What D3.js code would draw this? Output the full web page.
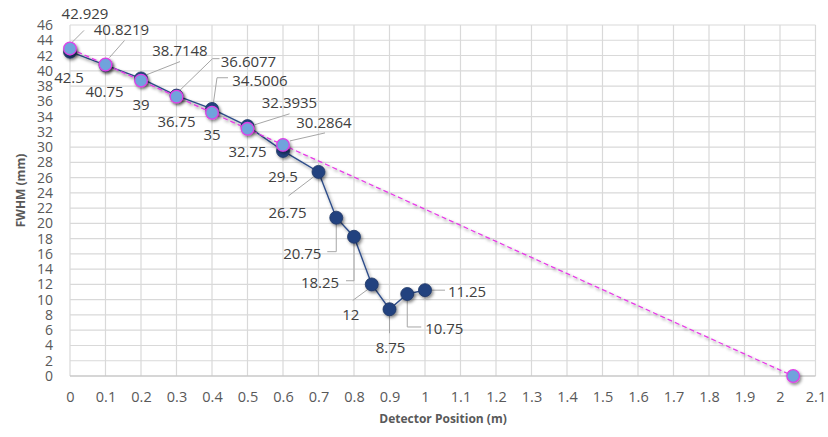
<!DOCTYPE html>
<html>
<head>
<meta charset="utf-8">
<script src="https://cdn.jsdelivr.net/npm/d3@7"></script>
<style>
html,body{margin:0;padding:0;background:#fff;}
svg{display:block;font-family:"Open Sans",sans-serif;}
</style>
</head>
<body>
<svg id="chart" width="828" height="437"></svg>
<script>
// ---- data ----
const measuredX = [0,0.1,0.2,0.3,0.4,0.5,0.6,0.7,0.75,0.8,0.85,0.9,0.95,1.0];
const measuredY = [42.5,40.75,39,36.75,35,32.75,29.5,26.75,20.75,18.25,12,8.75,10.75,11.25];
const fitX = [0,0.1,0.2,0.3,0.4,0.5,0.6,2.037];
const fitY = [42.929,40.8219,38.7148,36.6077,34.5006,32.3935,30.2864,0];
const fitLabels = ["42.929","40.8219","38.7148","36.6077","34.5006","32.3935","30.2864",""];
const measuredLabels = ["42.5","40.75","39","36.75","35","32.75","29.5","26.75","20.75","18.25","12","8.75","10.75","11.25"];
const xTicks = [0,0.1,0.2,0.3,0.4,0.5,0.6,0.7,0.8,0.9,1,1.1,1.2,1.3,1.4,1.5,1.6,1.7,1.8,1.9,2,2.1];
const xTickLabels = ["0","0.1","0.2","0.3","0.4","0.5","0.6","0.7","0.8","0.9","1","1.1","1.2","1.3","1.4","1.5","1.6","1.7","1.8","1.9","2","2.1"];
const yTicks = [0,2,4,6,8,10,12,14,16,18,20,22,24,26,28,30,32,34,36,38,40,42,44,46];
const xTitle = "Detector Position (m)";
const yTitle = "FWHM (mm)";

// ---- label placement (pixel offsets from the point) ----
const fitLabelOffsets = [[15,-35],[16,-36],[39,-31],[72,-36],[48,-33],[42,-27],[41,-23],[0,0]];
const fitLeaders = [
  [[2,-6],[14,-18]], [[4,-7],[19,-24]], [[6,-6],[39,-19]],
  [[3,-6],[36,-38],[43,-38]], [[1,-7],[5,-35],[16,-35]],
  [[7,-4],[42,-15]], [[7,-4],[42,-12]], []
];
const measuredLabelOffsets = [[-1,25],[-1,26],[0,26],[0,25],[0,25],[0,25],[0,25],
  [-31,40],[-34,35],[-34,45],[-21,30],[1,38],[37,34],[42,1]];
const measuredLeaders = [[],[],[],[],[],[],[],
  [[-5,5],[-30,24]], [[0,6],[0,34],[-9,34]], [[0,6],[0,44],[-8,44]],
  [[-4,5],[-19,16]], [[0,7],[0,24]], [[0,6],[0,33],[14,33]], [[7,0],[20,0]]
];

// ---- layout ----
const svg = d3.select("#chart");
const pLeft = 70, pRight = 815.5, pTop = 25, pBottom = 376;
const x = d3.scaleLinear().domain([0,2.1]).range([pLeft,pRight]);
const y = d3.scaleLinear().domain([0,46]).range([pBottom,pTop]);

const defs = svg.append("defs");
const f = defs.append("filter").attr("id","shadow").attr("x","-50%").attr("y","-50%").attr("width","200%").attr("height","200%");
f.append("feDropShadow").attr("dx",1.5).attr("dy",2).attr("stdDeviation",1.8).attr("flood-color","#000").attr("flood-opacity",0.45);

// gridlines
const grid = svg.append("g");
grid.selectAll("line.v").data(xTicks).join("line").attr("class","v")
  .attr("x1",d=>x(d)).attr("x2",d=>x(d)).attr("y1",pTop).attr("y2",pBottom)
  .attr("stroke","#d9d9d9").attr("stroke-width",1.2);
grid.selectAll("line.h").data(yTicks).join("line").attr("class","h")
  .attr("x1",pLeft).attr("x2",pRight).attr("y1",d=>y(d)).attr("y2",d=>y(d))
  .attr("stroke",d=>d===0?"#c8c8c8":"#d9d9d9").attr("stroke-width",d=>d===0?1.6:1.2);

// axes (labels only)
const xAxis = d3.axisBottom(x).tickValues(xTicks).tickSize(0).tickPadding(16)
  .tickFormat((d,i)=>xTickLabels[i]);
svg.append("g").attr("transform",`translate(0,${pBottom})`).call(xAxis)
  .call(g=>g.select(".domain").remove())
  .selectAll("text").attr("font-family","Open Sans").attr("font-size",14.5).attr("fill","#595959");
const yAxis = d3.axisLeft(y).tickValues(yTicks).tickSize(0).tickPadding(17);
svg.append("g").attr("transform",`translate(${pLeft},0)`).call(yAxis)
  .call(g=>g.select(".domain").remove())
  .selectAll("text").attr("font-family","Open Sans").attr("font-size",14).attr("fill","#595959");

// axis titles
svg.append("text").attr("x",443).attr("y",423).attr("text-anchor","middle")
  .attr("font-size",12).attr("font-weight","bold").attr("fill","#595959").text(xTitle);
svg.append("text").attr("transform",`translate(25,${(pTop+pBottom)/2-10}) rotate(-90)`)
  .attr("text-anchor","middle").attr("font-size",12).attr("font-weight","bold").attr("fill","#595959").text(yTitle);

const measured = measuredX.map((v,i)=>({x:v,y:measuredY[i],label:measuredLabels[i],off:measuredLabelOffsets[i],lead:measuredLeaders[i]}));
const fit = fitX.map((v,i)=>({x:v,y:fitY[i],label:fitLabels[i],off:fitLabelOffsets[i],lead:fitLeaders[i]}));

// leader lines
function leaders(data){
  svg.append("g").selectAll("polyline").data(data.filter(d=>d.lead.length)).join("polyline")
    .attr("points",d=>d.lead.map(p=>[x(d.x)+p[0],y(d.y)+p[1]].join(",")).join(" "))
    .attr("fill","none").attr("stroke","#a6a6a6").attr("stroke-width",1);
}
leaders(measured);
leaders(fit);

// measured series
const line = d3.line().x(d=>x(d.x)).y(d=>y(d.y));
svg.append("path").datum(measured).attr("d",line).attr("fill","none")
  .attr("stroke","#2e4d8a").attr("stroke-width",1.4).attr("filter","url(#shadow)");
svg.append("g").selectAll("circle").data(measured).join("circle")
  .attr("cx",d=>x(d.x)).attr("cy",d=>y(d.y)).attr("r",6.5)
  .attr("fill","#24437f").attr("stroke","#1c3565").attr("stroke-width",0.8).attr("filter","url(#shadow)");

// fit series
svg.append("path").datum(fit).attr("d",line).attr("fill","none")
  .attr("stroke","#e63ce6").attr("stroke-width",1.3).attr("stroke-dasharray","5,3").attr("filter","url(#shadow)");
svg.append("g").selectAll("circle").data(fit).join("circle")
  .attr("cx",d=>x(d.x)).attr("cy",d=>y(d.y)).attr("r",6.3)
  .attr("fill","#6fa3dc").attr("stroke","#e040e8").attr("stroke-width",1.3).attr("filter","url(#shadow)");

// data labels
function labels(data){
  svg.append("g").selectAll("text").data(data.filter(d=>d.label)).join("text")
    .attr("x",d=>x(d.x)+d.off[0]).attr("y",d=>y(d.y)+d.off[1])
    .attr("text-anchor","middle").attr("dominant-baseline","central")
    .attr("font-size",15).attr("fill","#404040").text(d=>d.label);
}
labels(measured);
labels(fit);
</script>
</body>
</html>
